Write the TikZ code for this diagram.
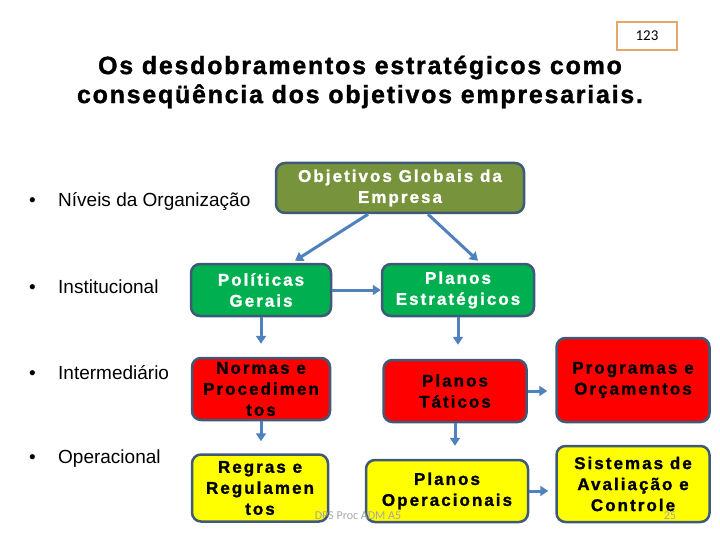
\documentclass[tikz,border=0pt]{standalone}
\usepackage{fontspec}
\setmainfont{Liberation Sans}
\newfontfamily\boxfont[LetterSpace=12, BoldFeatures={FakeBold=1.3}]{Liberation Sans}
\newfontfamily\titlefont[LetterSpace=7, BoldFeatures={FakeBold=1.3}]{Liberation Sans}
\newfontfamily\calfont{Carlito}
\usetikzlibrary{arrows.meta}
\definecolor{olivef}{HTML}{77933C}
\definecolor{greenf}{HTML}{00B050}
\definecolor{redf}{HTML}{FF0000}
\definecolor{yellowf}{HTML}{FFFF00}
\definecolor{bordc}{HTML}{3E5A78}
\definecolor{arrc}{HTML}{4F81BD}
\definecolor{pgbox}{HTML}{E6A76B}
\definecolor{footc}{HTML}{A6A6A6}
\tikzset{
  lvl/.style={draw=bordc, line width=2.5pt, rounded corners=9pt, align=center, inner sep=0pt,
    font=\boxfont\bfseries\fontsize{17}{21}\selectfont},
  arr/.style={draw=arrc, line width=3pt, -{Triangle[length=8pt,width=10pt]}},
  bul/.style={anchor=west, inner sep=0pt, font=\fontsize{19}{22}\selectfont},
}
\begin{document}
\begin{tikzpicture}[x=1pt,y=-1pt]
\path[use as bounding box] (0,0) rectangle (720,540);
% page box
\node[draw=pgbox, line width=2.5pt, minimum width=60pt, minimum height=28pt, inner sep=0pt,
  font=\calfont\fontsize{15}{17}\selectfont] (pg) at (647,36) {123};
% title
\node[align=center, inner sep=0pt, font=\titlefont\bfseries\fontsize{25}{29}\selectfont] (title) at (360,82)
  {Os desdobramentos estratégicos como\\conseqüência dos objetivos empresariais.};
% bullets
\node[bul] (b1) at (29,202) {\makebox[29pt][l]{•}Níveis da Organização};
\node[bul] (b2) at (29,287) {\makebox[29pt][l]{•}Institucional};
\node[bul] (b3) at (29,373) {\makebox[29pt][l]{•}Intermediário};
\node[bul] (b4) at (29,459) {\makebox[29pt][l]{•}Operacional};
% boxes
\node[lvl, fill=olivef, text=white, minimum width=248pt, minimum height=50pt] (obj) at (400,188)
  {Objetivos Globais da\\Empresa};
\node[lvl, fill=greenf, text=white, minimum width=140pt, minimum height=52pt] (pol) at (261,290)
  {Políticas\\Gerais};
\node[lvl, fill=greenf, text=white, minimum width=152pt, minimum height=52pt] (pest) at (458,290)
  {Planos\\Estratégicos};
\node[lvl, fill=redf, text=black, minimum width=138pt, minimum height=62pt] (norm) at (261,389)
  {Normas e\\Procedimen\\tos};
\node[lvl, fill=redf, text=black, minimum width=143pt, minimum height=62pt] (ptat) at (455,391)
  {Planos\\Táticos};
\node[lvl, fill=redf, text=black, minimum width=153pt, minimum height=84pt] (prog) at (633,380)
  {Programas e\\Orçamentos};
\node[lvl, fill=yellowf, text=black, minimum width=136pt, minimum height=67pt] (regr) at (260,488)
  {Regras e\\Regulamen\\tos};
\node[lvl, fill=yellowf, text=black, minimum width=162pt, minimum height=62pt] (pop) at (447,491)
  {Planos\\Operacionais};
\node[lvl, fill=yellowf, text=black, minimum width=153pt, minimum height=76pt] (sist) at (633,484)
  {Sistemas de\\Avaliação e\\Controle};
% arrows
\draw[arr] ([xshift=-32pt]obj.south) -- ([xshift=34pt,yshift=2pt]pol.north);
\draw[arr] ([xshift=28pt]obj.south) -- ([xshift=20pt,yshift=2pt]pest.north);
\draw[arr] (pol.east) -- (pest.west);
\draw[arr] (pol.south) -- ([yshift=13pt]norm.north);
\draw[arr] (pest.south) -- ([yshift=14pt]ptat.north -| pest.south);
\draw[arr] (norm.south) -- ([yshift=12pt]regr.north -| norm.south);
\draw[arr] (ptat.south) -- ([yshift=13pt]pop.north -| ptat.south);
\draw[arr] (ptat.east) -- ([xshift=-8pt]prog.west |- ptat.east);
\draw[arr] (pop.east) -- ([xshift=-7pt]sist.west |- pop.east);
% footer
\node[inner sep=0pt, text=footc, font=\calfont\fontsize{12}{14}\selectfont] (foot) at (358,516) {DPS Proc ADM A5};
\node[inner sep=0pt, text=footc, font=\calfont\fontsize{12}{14}\selectfont] (pnum) at (670,516) {25};
\end{tikzpicture}
\end{document}
